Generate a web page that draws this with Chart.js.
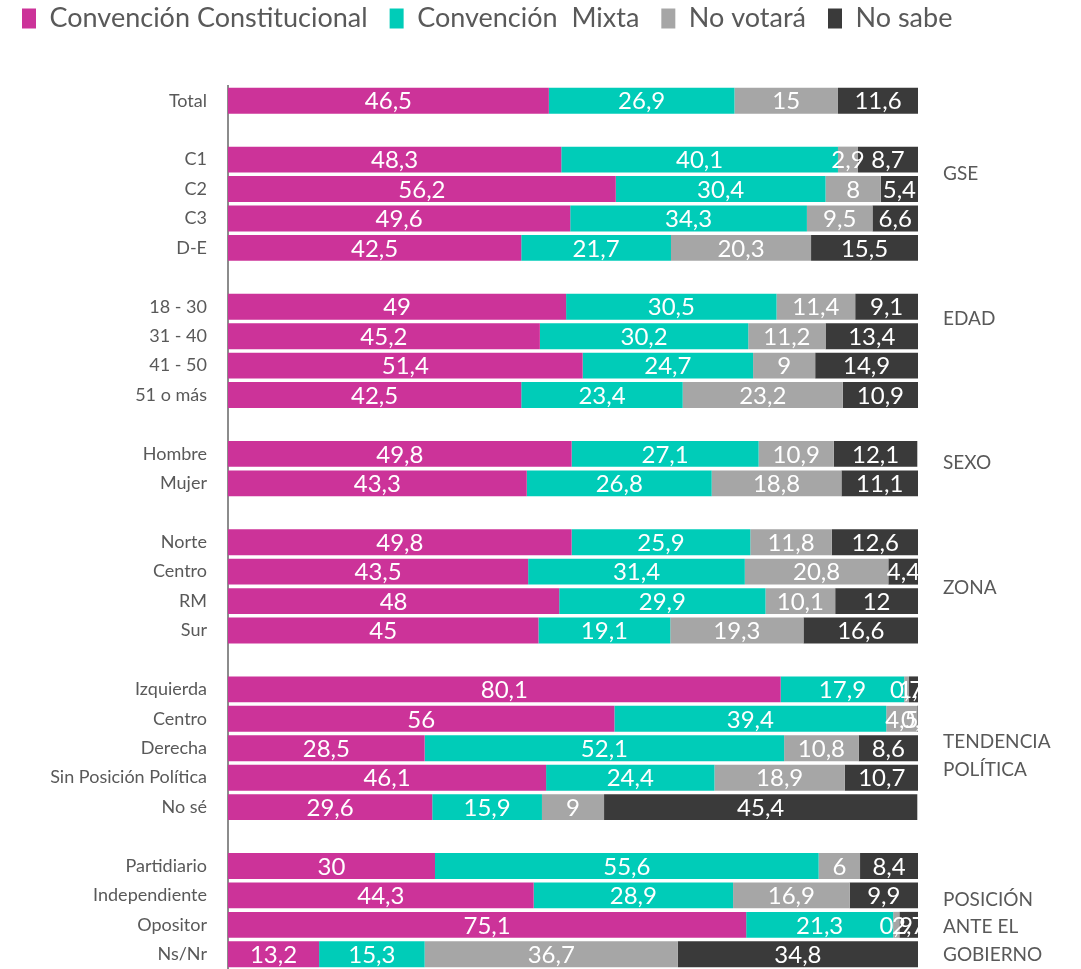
<!DOCTYPE html>
<html>
<head>
<meta charset="utf-8">
<script src="https://cdn.jsdelivr.net/npm/chart.js@4.4.1/dist/chart.umd.min.js"></script>
<style>
  html, body { margin: 0; padding: 0; background: #fff; }
  #wrap { width: 1081px; height: 969px; position: relative; }
</style>
</head>
<body>
<div id="wrap"><canvas id="chart-bar"></canvas></div>
<script>
// rows ('' = empty spacer row between groups)
const categories = [
  'Total', '',
  'C1', 'C2', 'C3', 'D-E', '',
  '18 - 30', '31 - 40', '41 - 50', '51 o más', '',
  'Hombre', 'Mujer', '',
  'Norte', 'Centro', 'RM', 'Sur', '',
  'Izquierda', 'Centro', 'Derecha', 'Sin Posición Política', 'No sé', '',
  'Partidiario', 'Independiente', 'Opositor', 'Ns/Nr'
];

const convencionConstitucional = [
  46.5, null,
  48.3, 56.2, 49.6, 42.5, null,
  49, 45.2, 51.4, 42.5, null,
  49.8, 43.3, null,
  49.8, 43.5, 48, 45, null,
  80.1, 56, 28.5, 46.1, 29.6, null,
  30, 44.3, 75.1, 13.2
];
const convencionMixta = [
  26.9, null,
  40.1, 30.4, 34.3, 21.7, null,
  30.5, 30.2, 24.7, 23.4, null,
  27.1, 26.8, null,
  25.9, 31.4, 29.9, 19.1, null,
  17.9, 39.4, 52.1, 24.4, 15.9, null,
  55.6, 28.9, 21.3, 15.3
];
const noVotara = [
  15, null,
  2.9, 8, 9.5, 20.3, null,
  11.4, 11.2, 9, 23.2, null,
  10.9, 18.8, null,
  11.8, 20.8, 10.1, 19.3, null,
  0.7, 4.5, 10.8, 18.9, 9, null,
  6, 16.9, 0.9, 36.7
];
const noSabe = [
  11.6, null,
  8.7, 5.4, 6.6, 15.5, null,
  9.1, 13.4, 14.9, 10.9, null,
  12.1, 11.1, null,
  12.6, 4.4, 12, 16.6, null,
  1.7, 0.1, 8.6, 10.7, 45.4, null,
  8.4, 9.9, 2.7, 34.8
];

// group names on the right; pos = row index where the first line sits
const groupLabels = [
  { lines: ['GSE'], pos: 2.5 },
  { lines: ['EDAD'], pos: 7.4 },
  { lines: ['SEXO'], pos: 12.3 },
  { lines: ['ZONA'], pos: 16.55 },
  { lines: ['TENDENCIA', 'POLÍTICA'], pos: 21.8 },
  { lines: ['POSICIÓN', 'ANTE EL', 'GOBIERNO'], pos: 27.15 }
];

const FONT = 'Lato, Calibri, Carlito, sans-serif';
const TEXT_GREY = '#595959';

// white value labels in the middle of each segment
const valueLabels = {
  id: 'valueLabels',
  afterDatasetsDraw(chart) {
    const ctx = chart.ctx;
    ctx.save();
    ctx.fillStyle = '#ffffff';
    ctx.font = '24px ' + FONT;
    ctx.textAlign = 'center';
    ctx.textBaseline = 'middle';
    chart.data.datasets.forEach((ds, i) => {
      const meta = chart.getDatasetMeta(i);
      meta.data.forEach((bar, j) => {
        const v = ds.data[j];
        if (v === null || v === undefined) return;
        const x = (bar.x + bar.base) / 2;
        ctx.fillText(String(v).replace('.', ','), x, bar.y + 1);
      });
    });
    ctx.restore();
  }
};

// group names to the right of the bars
const groupNames = {
  id: 'groupNames',
  afterDraw(chart) {
    const ctx = chart.ctx;
    const y = chart.scales.y;
    ctx.save();
    ctx.fillStyle = TEXT_GREY;
    ctx.font = '19px ' + FONT;
    ctx.textAlign = 'left';
    ctx.textBaseline = 'middle';
    groupLabels.forEach(g => {
      g.lines.forEach((t, k) => {
        ctx.fillText(t, chart.chartArea.right + 25, y.getPixelForValue(g.pos + k * 0.93));
      });
    });
    ctx.restore();
  }
};

// legend: extra room below it and moved up a little
const legendGap = {
  id: 'legendGap',
  beforeInit(chart) {
    const fit = chart.legend.fit;
    chart.legend.fit = function () {
      fit.bind(chart.legend)();
      this.height += 27;
    };
  },
  afterLayout(chart) {
    chart.legend.top -= 17;
    chart.legend.bottom -= 17;
  }
};

const ctx1 = document.getElementById('chart-bar').getContext('2d');

window.myChart = new Chart(ctx1, {
  type: 'bar',
  data: {
    labels: categories,
    datasets: [
      { label: 'Convención Constitucional', data: convencionConstitucional, backgroundColor: '#cc3399' },
      { label: 'Convención  Mixta', data: convencionMixta, backgroundColor: '#00ccb8' },
      { label: 'No votará', data: noVotara, backgroundColor: '#a6a6a6' },
      { label: 'No sabe', data: noSabe, backgroundColor: '#3a3a3a' }
    ]
  },
  options: {
    indexAxis: 'y',
    responsive: true,
    maintainAspectRatio: false,
    animation: false,
    layout: {
      padding: { left: 0, right: 0, top: 0, bottom: 0 }
    },
    datasets: {
      bar: {
        barPercentage: 0.88,
        categoryPercentage: 1,
        borderWidth: 0
      }
    },
    plugins: {
      legend: {
        display: true,
        position: 'top',
        align: 'start',
        labels: {
          color: TEXT_GREY,
          boxWidth: 14,
          boxHeight: 20,
          padding: 22,
          font: { size: 27, family: FONT }
        }
      },
      tooltip: { enabled: false }
    },
    scales: {
      x: {
        stacked: true,
        display: false,
        min: 0,
        max: 100
      },
      y: {
        stacked: true,
        grid: { display: false, drawTicks: false },
        border: { display: true, color: '#8c8c8c', width: 2 },
        ticks: {
          color: TEXT_GREY,
          padding: 21,
          autoSkip: false,
          font: { size: 18, family: FONT }
        },
        afterFit(scale) {
          scale.width = 228;
          // tick padding must not shrink the plot vertically
          scale.paddingTop = 0;
          scale.paddingBottom = 0;
        }
      },
      yRight: {
        type: 'category',
        position: 'right',
        grid: { display: false, drawTicks: false },
        border: { display: false },
        ticks: { display: false },
        afterFit(scale) {
          scale.width = 163;
        }
      }
    }
  },
  plugins: [valueLabels, groupNames, legendGap]
});
</script>
</body>
</html>
